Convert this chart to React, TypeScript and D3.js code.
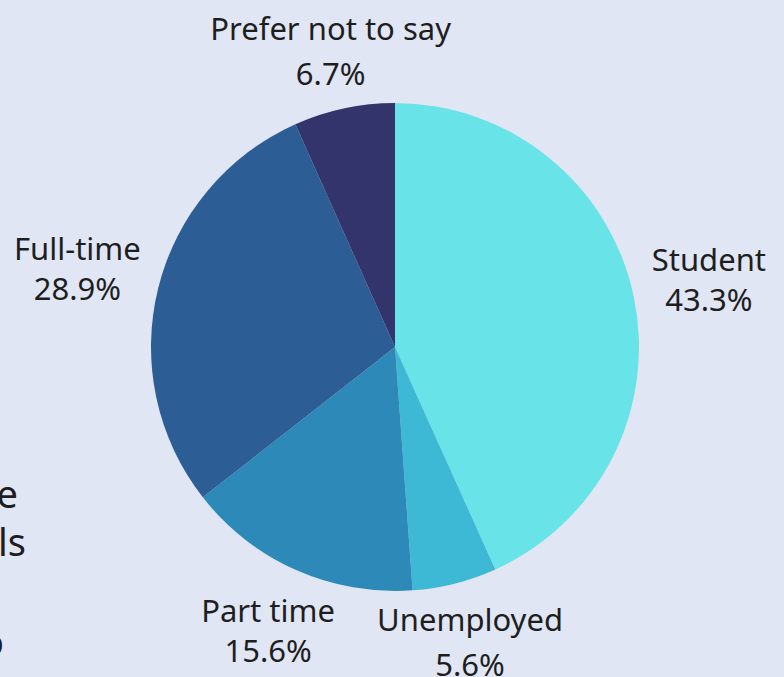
import React from "react";
import * as d3 from "d3";

const categories = ["Student", "Unemployed", "Part time", "Full-time", "Prefer not to say"];
const values = [43.3, 5.6, 15.6, 28.9, 6.7];
const colors = ["#68e3e7", "#3db8d5", "#2d89b7", "#2d5d95", "#32346b"];
// label nudges (dx, dy) relative to the radial label anchor
const labelNudge: [number, number][] = [
  [3, 1],
  [-3, -12],
  [2, -6],
  [-9, 0],
  [2, 16],
];
const sideText = [
  { t: "e", x: 18, y: 508 },
  { t: "ls", x: 26, y: 556 },
  { t: "o", x: 4, y: 656 },
];

const W = 784;
const H = 677;
const cx = 395;
const cy = 347;
const R = 244;
const labelR = 318;

export default function App() {
  const pie = d3.pie<number>().sort(null).value((d) => d);
  const arcs = pie(values);
  const arc = d3.arc<d3.PieArcDatum<number>>().innerRadius(0).outerRadius(R);
  const font = "'Noto Sans', sans-serif";
  return (
    <svg
      width={W}
      height={H}
      style={{ position: "fixed", left: 0, top: 0 }}
    >
      <rect width={W} height={H} fill="#e1e6f5" />
      <g transform={`translate(${cx},${cy})`}>
        {arcs.map((a, i) => (
          <path key={i} d={arc(a) || ""} fill={colors[i]} />
        ))}
        {arcs.map((a, i) => {
          const mid = (a.startAngle + a.endAngle) / 2;
          const x = Math.sin(mid) * labelR + labelNudge[i][0];
          const y = -Math.cos(mid) * labelR + labelNudge[i][1];
          const gap = i === 1 || i === 4 ? 45 : 40;
          return (
            <text
              key={i}
              textAnchor="middle"
              fontFamily={font}
              fontSize={31}
              fill="#1e1e1e"
            >
              <tspan x={x} y={y - gap / 2 + 10}>{categories[i]}</tspan>
              <tspan x={x} y={y + gap / 2 + 10}>{d3.format(".1f")(values[i])}%</tspan>
            </text>
          );
        })}
      </g>
      {sideText.map((s, i) => (
        <text key={i} x={s.x} y={s.y} textAnchor="end" fontFamily={font} fontSize={38} fill="#1e1e1e">
          {s.t}
        </text>
      ))}
    </svg>
  );
}
